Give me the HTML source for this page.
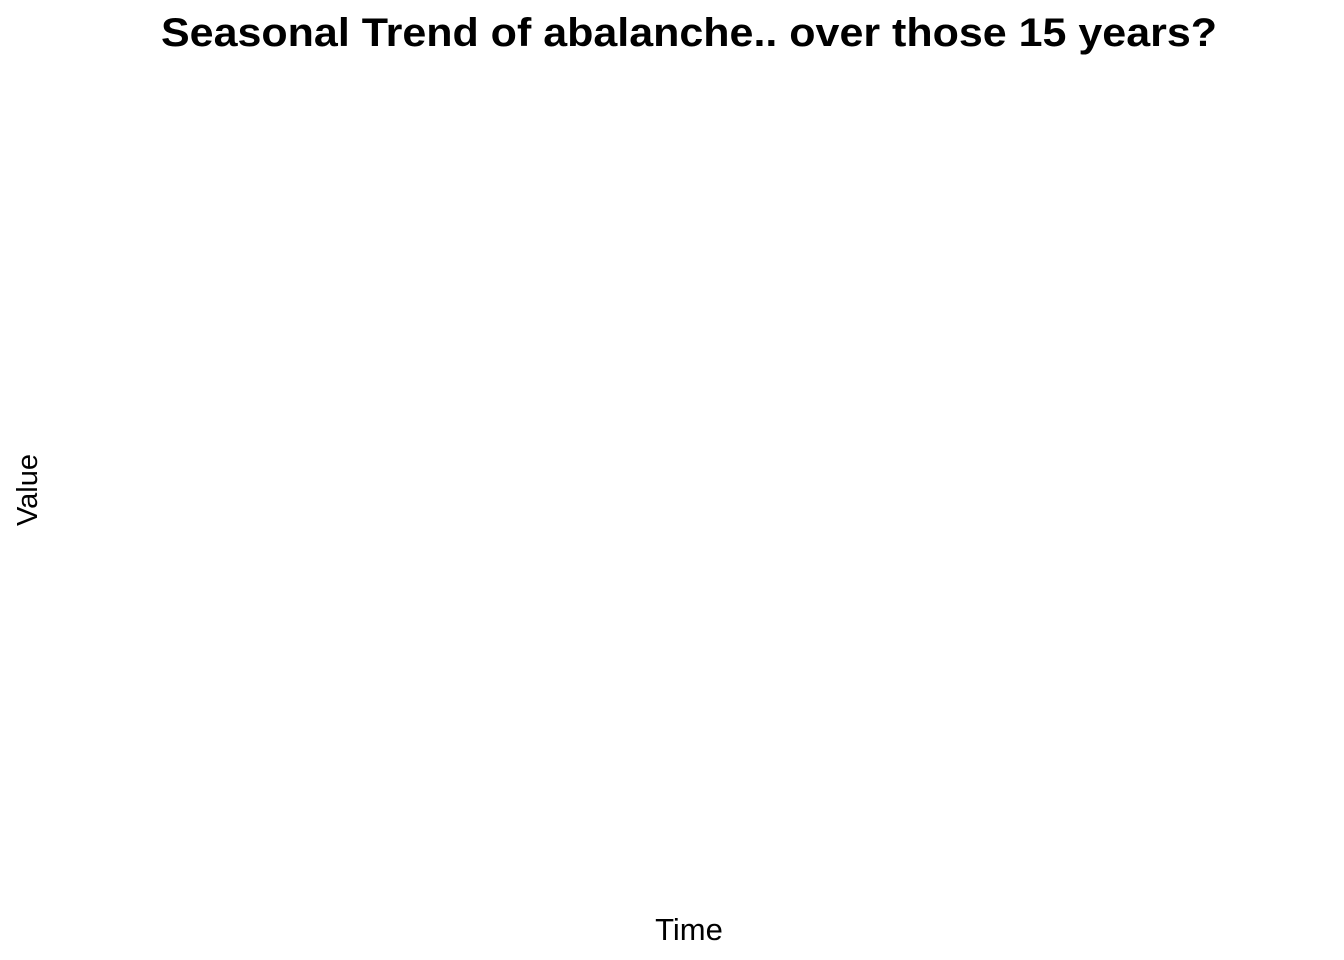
<!DOCTYPE html>
<html>
<head>
<meta charset="utf-8">
<style>
  html, body { margin: 0; padding: 0; background: #ffffff; }
  svg { display: block; }
  text { font-family: "Liberation Sans", Arial, sans-serif; fill: #000; }
</style>
</head>
<body>
<svg id="chart" width="1344" height="960" viewBox="0 0 1344 960">
  <rect x="0" y="0" width="1344" height="960" fill="#ffffff"/>
  <text x="689" y="46" text-anchor="middle" font-size="40" font-weight="bold" textLength="1056" lengthAdjust="spacingAndGlyphs">Seasonal Trend of abalanche.. over those 15 years?</text>
  <text x="689" y="940" text-anchor="middle" font-size="31">Time</text>
  <text x="0" y="0" text-anchor="middle" font-size="29" transform="translate(37,490) rotate(-90)">Value</text>
  <g id="plot"></g>
</svg>
<script>
// Chart data (the reference plot shows no data marks)
const categories = [];
const seriesValues = [];
const xTickLabels = [];
const yTickLabels = [];

(function () {
  const plot = document.getElementById('plot');
  const left = 60, right = 1330, top = 70, bottom = 900;
  if (!seriesValues.length) return;
  const maxV = Math.max(...seriesValues), minV = Math.min(...seriesValues);
  const x = i => left + (right - left) * (categories.length > 1 ? i / (categories.length - 1) : 0.5);
  const y = v => bottom - (bottom - top) * ((v - minV) / ((maxV - minV) || 1));
  const pts = seriesValues.map((v, i) => x(i) + ',' + y(v)).join(' ');
  const line = document.createElementNS('http://www.w3.org/2000/svg', 'polyline');
  line.setAttribute('points', pts);
  line.setAttribute('fill', 'none');
  line.setAttribute('stroke', '#000');
  
  
  plot.appendChild(line);
})();
</script>
</body>
</html>
